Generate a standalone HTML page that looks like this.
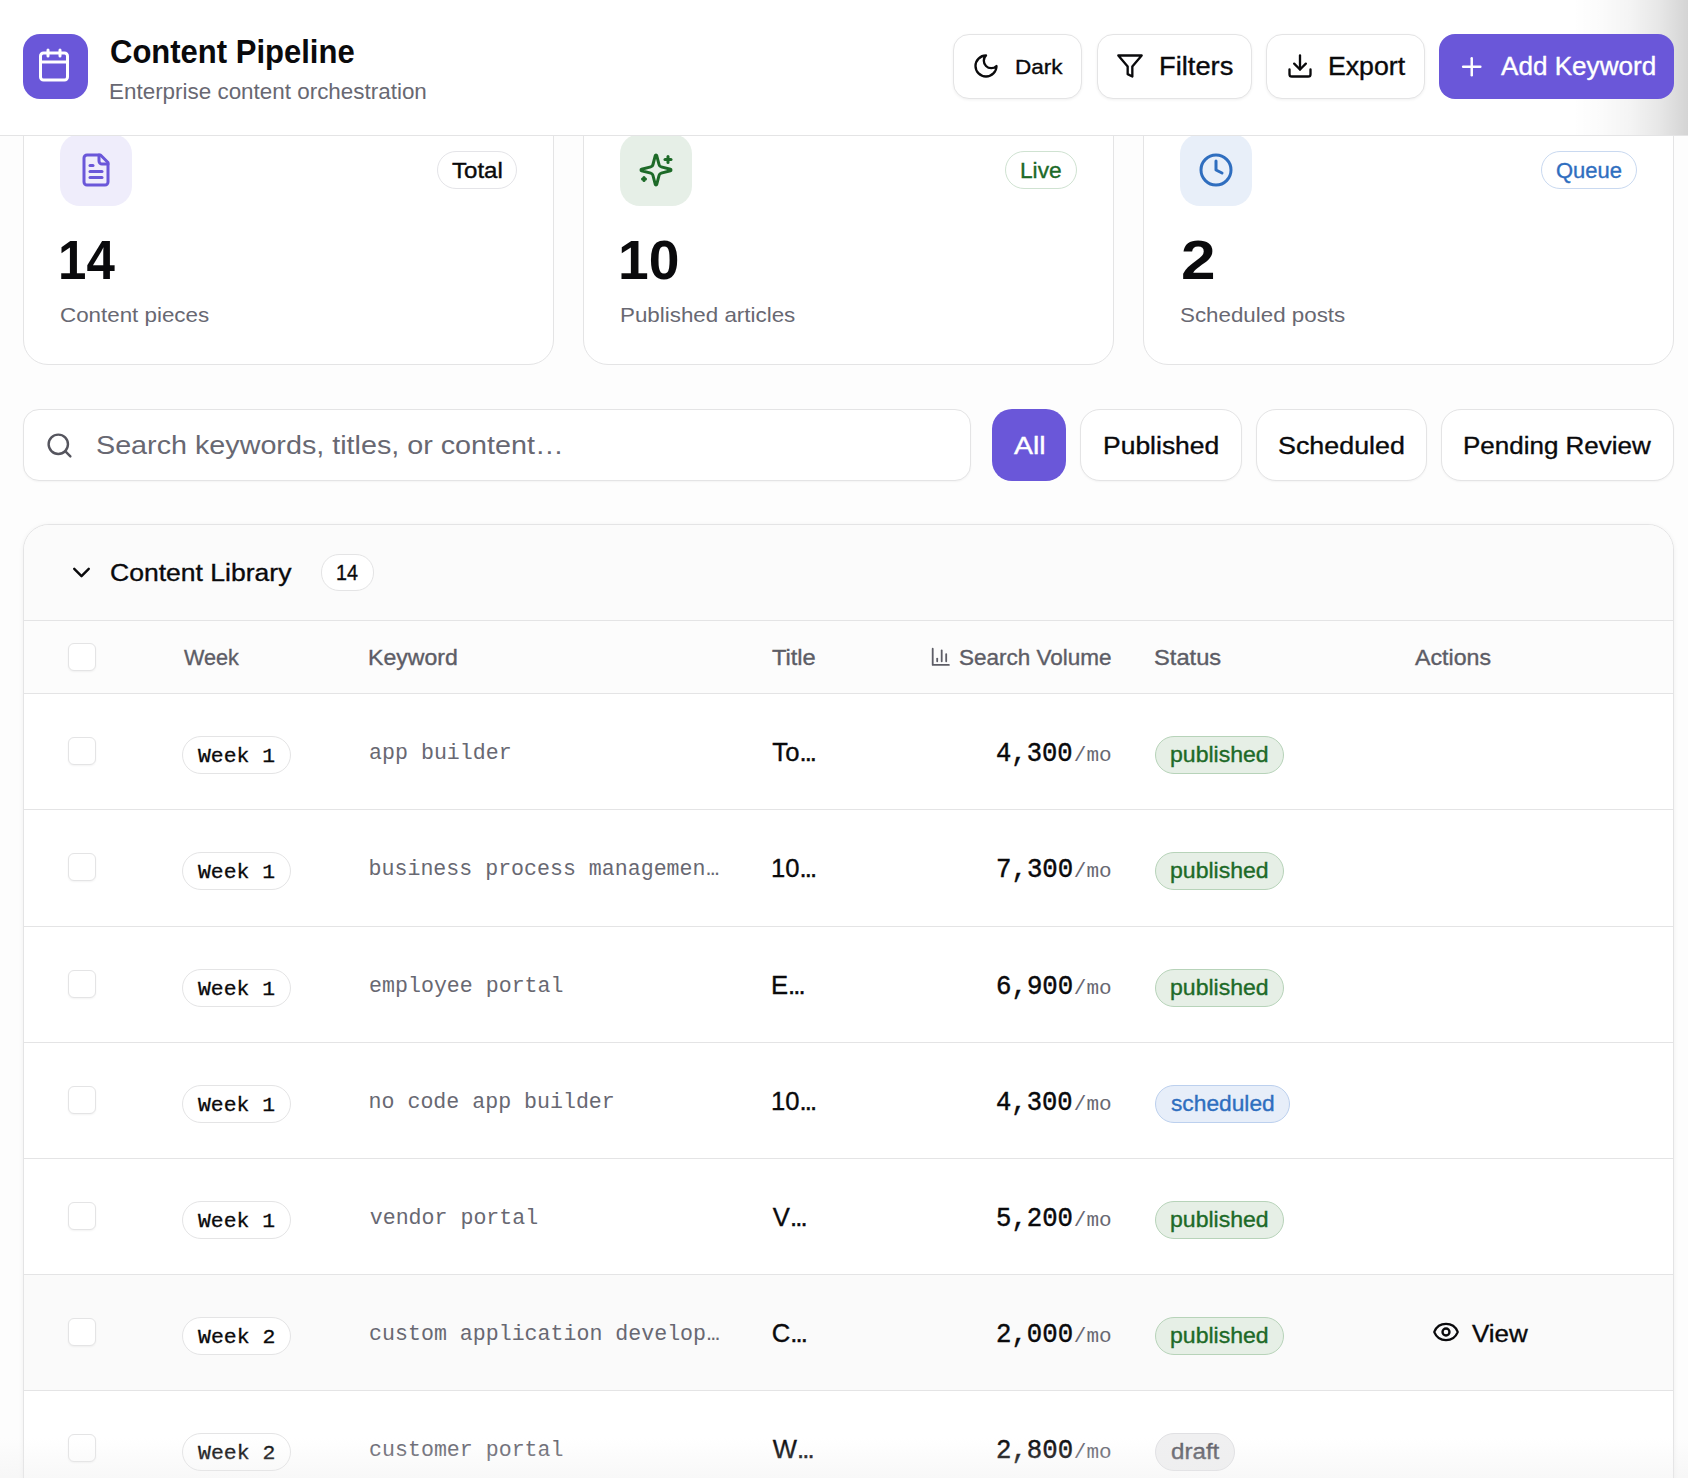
<!DOCTYPE html>
<html><head><meta charset="utf-8"><title>Content Pipeline</title>
<style>
html,body{margin:0;padding:0;}
body{width:1688px;height:1478px;overflow:hidden;background:#fdfdfd;position:relative;font-family:'Liberation Sans', sans-serif;}
</style></head><body>
<div style="position:absolute;left:23px;top:97px;width:531px;height:268px;box-sizing:border-box;background:#fff;border:1px solid #e4e4e5;border-radius:25px;"></div><div style="position:absolute;left:60px;top:134px;width:72px;height:72px;box-sizing:border-box;background:#efedfb;border-radius:20px;"></div><svg style="position:absolute;left:78px;top:152px;" width="36" height="36" viewBox="0 0 24 24" fill="none" stroke="#6a57d9" stroke-width="2" stroke-linecap="round" stroke-linejoin="round"><path d="M15 2H6a2 2 0 0 0-2 2v16a2 2 0 0 0 2 2h12a2 2 0 0 0 2-2V7Z"/><path d="M14 2v4a2 2 0 0 0 2 2h4"/><path d="M10 9H8"/><path d="M16 13H8"/><path d="M16 17H8"/></svg><div style="position:absolute;left:437px;top:151px;width:80px;height:38px;box-sizing:border-box;background:#fff;border:1px solid #e4e4e8;border-radius:19px;"></div><div style="position:absolute;left:583px;top:97px;width:531px;height:268px;box-sizing:border-box;background:#fff;border:1px solid #e4e4e5;border-radius:25px;"></div><div style="position:absolute;left:620px;top:134px;width:72px;height:72px;box-sizing:border-box;background:#e6efe7;border-radius:20px;"></div><svg style="position:absolute;left:638px;top:152px;" width="36" height="36" viewBox="0 0 24 24" fill="none" stroke="#1d6a28" stroke-width="2" stroke-linecap="round" stroke-linejoin="round"><path d="M9.937 15.5A2 2 0 0 0 8.5 14.063l-6.135-1.582a.5.5 0 0 1 0-.962L8.5 9.936A2 2 0 0 0 9.937 8.5l1.582-6.135a.5.5 0 0 1 .963 0L14.063 8.5A2 2 0 0 0 15.5 9.937l6.135 1.581a.5.5 0 0 1 0 .964L15.5 14.063a2 2 0 0 0-1.437 1.437l-1.582 6.135a.5.5 0 0 1-.963 0z"/><path d="M20 3v4"/><path d="M22 5h-4"/><path d="M4 17v2"/><path d="M5 18H3"/></svg><div style="position:absolute;left:1005px;top:151px;width:72px;height:38px;box-sizing:border-box;background:#fff;border:1px solid #cfe2d1;border-radius:19px;"></div><div style="position:absolute;left:1143px;top:97px;width:531px;height:268px;box-sizing:border-box;background:#fff;border:1px solid #e4e4e5;border-radius:25px;"></div><div style="position:absolute;left:1180px;top:134px;width:72px;height:72px;box-sizing:border-box;background:#e8eff9;border-radius:20px;"></div><svg style="position:absolute;left:1198px;top:152px;" width="36" height="36" viewBox="0 0 24 24" fill="none" stroke="#2f6ebf" stroke-width="2" stroke-linecap="round" stroke-linejoin="round"><circle cx="12" cy="12" r="10"/><polyline points="12 6 12 12 16 14"/></svg><div style="position:absolute;left:1541px;top:151px;width:96px;height:38px;box-sizing:border-box;background:#fff;border:1px solid #c9d9f0;border-radius:19px;"></div><div style="position:absolute;left:23px;top:409px;width:948px;height:72px;box-sizing:border-box;background:#fff;border:1px solid #e4e4e5;border-radius:16px;box-shadow:0 1px 2px rgba(0,0,0,0.04);"></div><svg style="position:absolute;left:45px;top:431px;" width="29" height="29" viewBox="0 0 24 24" fill="none" stroke="#55555e" stroke-width="2" stroke-linecap="round" stroke-linejoin="round"><circle cx="11" cy="11" r="8"/><path d="m21 21-4.3-4.3"/></svg><div style="position:absolute;left:992px;top:409px;width:74px;height:72px;box-sizing:border-box;background:#6a57d9;border-radius:20px;"></div><div style="position:absolute;left:1080px;top:409px;width:162px;height:72px;box-sizing:border-box;background:#fff;border:1px solid #e4e4e5;border-radius:20px;box-shadow:0 1px 2px rgba(0,0,0,0.04);"></div><div style="position:absolute;left:1256px;top:409px;width:171px;height:72px;box-sizing:border-box;background:#fff;border:1px solid #e4e4e5;border-radius:20px;box-shadow:0 1px 2px rgba(0,0,0,0.04);"></div><div style="position:absolute;left:1441px;top:409px;width:233px;height:72px;box-sizing:border-box;background:#fff;border:1px solid #e4e4e5;border-radius:20px;box-shadow:0 1px 2px rgba(0,0,0,0.04);"></div><div style="position:absolute;left:23px;top:524px;width:1651px;height:1200px;box-sizing:border-box;border:1px solid #e4e4e5;border-radius:26px;background:#fff;overflow:hidden;box-shadow:0 1px 5px rgba(0,0,0,0.06)"><div style="position:absolute;left:0;top:0;right:0;height:95px;background:#fbfbfb;border-bottom:1px solid #e4e4e5"></div><div style="position:absolute;left:0;top:96px;right:0;height:72px;background:#fcfcfc;border-bottom:1px solid #e4e4e5"></div></div><svg style="position:absolute;left:66.8px;top:558.1px;" width="29" height="29" viewBox="0 0 24 24" fill="none" stroke="#0a0a0c" stroke-width="2" stroke-linecap="round" stroke-linejoin="round"><path d="m6 9 6 6 6-6"/></svg><div style="position:absolute;left:321px;top:554px;width:53px;height:37px;box-sizing:border-box;background:#fff;border:1px solid #e4e4e5;border-radius:18px;"></div><div style="position:absolute;left:68px;top:643px;width:28px;height:28px;box-sizing:border-box;background:#fff;border:1px solid #e4e4e5;border-radius:6px;box-shadow:0 1px 2px rgba(0,0,0,0.05);"></div><svg style="position:absolute;left:930px;top:645.8px;" width="21.6" height="21.6" viewBox="0 0 24 24" fill="none" stroke="#5d5d66" stroke-width="2" stroke-linecap="round" stroke-linejoin="round"><path d="M3 3v18h18"/><path d="M18 17V9"/><path d="M13 17V5"/><path d="M8 17v-3"/></svg><div style="position:absolute;left:24px;top:809px;width:1649px;height:1px;box-sizing:border-box;background:#e4e4e5;"></div><div style="position:absolute;left:68px;top:737px;width:28px;height:28px;box-sizing:border-box;background:#fff;border:1px solid #e4e4e5;border-radius:6px;box-shadow:0 1px 2px rgba(0,0,0,0.05);"></div><div style="position:absolute;left:182px;top:736px;width:109px;height:38px;box-sizing:border-box;background:#fff;border:1px solid #e4e4e5;border-radius:19px;"></div><div style="position:absolute;left:1155px;top:736px;width:129px;height:38px;box-sizing:border-box;background:#e6efe6;border:1px solid #b7d3b9;border-radius:19px;"></div><div style="position:absolute;left:24px;top:926px;width:1649px;height:1px;box-sizing:border-box;background:#e4e4e5;"></div><div style="position:absolute;left:68px;top:853px;width:28px;height:28px;box-sizing:border-box;background:#fff;border:1px solid #e4e4e5;border-radius:6px;box-shadow:0 1px 2px rgba(0,0,0,0.05);"></div><div style="position:absolute;left:182px;top:852px;width:109px;height:38px;box-sizing:border-box;background:#fff;border:1px solid #e4e4e5;border-radius:19px;"></div><div style="position:absolute;left:1155px;top:852px;width:129px;height:38px;box-sizing:border-box;background:#e6efe6;border:1px solid #b7d3b9;border-radius:19px;"></div><div style="position:absolute;left:24px;top:1042px;width:1649px;height:1px;box-sizing:border-box;background:#e4e4e5;"></div><div style="position:absolute;left:68px;top:970px;width:28px;height:28px;box-sizing:border-box;background:#fff;border:1px solid #e4e4e5;border-radius:6px;box-shadow:0 1px 2px rgba(0,0,0,0.05);"></div><div style="position:absolute;left:182px;top:969px;width:109px;height:38px;box-sizing:border-box;background:#fff;border:1px solid #e4e4e5;border-radius:19px;"></div><div style="position:absolute;left:1155px;top:969px;width:129px;height:38px;box-sizing:border-box;background:#e6efe6;border:1px solid #b7d3b9;border-radius:19px;"></div><div style="position:absolute;left:24px;top:1158px;width:1649px;height:1px;box-sizing:border-box;background:#e4e4e5;"></div><div style="position:absolute;left:68px;top:1086px;width:28px;height:28px;box-sizing:border-box;background:#fff;border:1px solid #e4e4e5;border-radius:6px;box-shadow:0 1px 2px rgba(0,0,0,0.05);"></div><div style="position:absolute;left:182px;top:1085px;width:109px;height:38px;box-sizing:border-box;background:#fff;border:1px solid #e4e4e5;border-radius:19px;"></div><div style="position:absolute;left:1155px;top:1085px;width:135px;height:38px;box-sizing:border-box;background:#e7eef9;border:1px solid #bcd0ee;border-radius:19px;"></div><div style="position:absolute;left:24px;top:1274px;width:1649px;height:1px;box-sizing:border-box;background:#e4e4e5;"></div><div style="position:absolute;left:68px;top:1202px;width:28px;height:28px;box-sizing:border-box;background:#fff;border:1px solid #e4e4e5;border-radius:6px;box-shadow:0 1px 2px rgba(0,0,0,0.05);"></div><div style="position:absolute;left:182px;top:1201px;width:109px;height:38px;box-sizing:border-box;background:#fff;border:1px solid #e4e4e5;border-radius:19px;"></div><div style="position:absolute;left:1155px;top:1201px;width:129px;height:38px;box-sizing:border-box;background:#e6efe6;border:1px solid #b7d3b9;border-radius:19px;"></div><div style="position:absolute;left:24px;top:1275px;width:1649px;height:115px;box-sizing:border-box;background:#fafafa;"></div><div style="position:absolute;left:24px;top:1390px;width:1649px;height:1px;box-sizing:border-box;background:#e4e4e5;"></div><div style="position:absolute;left:68px;top:1318px;width:28px;height:28px;box-sizing:border-box;background:#fff;border:1px solid #e4e4e5;border-radius:6px;box-shadow:0 1px 2px rgba(0,0,0,0.05);"></div><div style="position:absolute;left:182px;top:1317px;width:109px;height:38px;box-sizing:border-box;background:#fff;border:1px solid #e4e4e5;border-radius:19px;"></div><div style="position:absolute;left:1155px;top:1317px;width:129px;height:38px;box-sizing:border-box;background:#e6efe6;border:1px solid #b7d3b9;border-radius:19px;"></div><svg style="position:absolute;left:1432px;top:1318.2px;" width="28" height="28" viewBox="0 0 24 24" fill="none" stroke="#0a0a0c" stroke-width="2" stroke-linecap="round" stroke-linejoin="round"><path d="M2.062 12.348a1 1 0 0 1 0-.696 10.75 10.75 0 0 1 19.876 0 1 1 0 0 1 0 .696 10.75 10.75 0 0 1-19.876 0"/><circle cx="12" cy="12" r="3"/></svg><div style="position:absolute;left:24px;top:1506px;width:1649px;height:1px;box-sizing:border-box;background:#e4e4e5;"></div><div style="position:absolute;left:68px;top:1434px;width:28px;height:28px;box-sizing:border-box;background:#fff;border:1px solid #e4e4e5;border-radius:6px;box-shadow:0 1px 2px rgba(0,0,0,0.05);"></div><div style="position:absolute;left:182px;top:1433px;width:109px;height:38px;box-sizing:border-box;background:#fff;border:1px solid #e4e4e5;border-radius:19px;"></div><div style="position:absolute;left:1155px;top:1433px;width:80px;height:38px;box-sizing:border-box;background:#f0f0f1;border:1px solid #e0e0e3;border-radius:19px;"></div>
<div style="position:absolute;left:452.20px;top:158.80px;font-family:'Liberation Sans', sans-serif;font-weight:400;font-size:21.22px;line-height:normal;color:#0a0a0c;white-space:pre;transform:scaleX(1.1341);transform-origin:0 0;-webkit-text-stroke:0.35px currentColor;">Total</div><div style="position:absolute;left:58.28px;top:226.90px;font-family:'Liberation Sans', sans-serif;font-weight:700;font-size:55.98px;line-height:normal;color:#0a0a0c;white-space:pre;transform:scaleX(0.9121);transform-origin:0 0;">14</div><div style="position:absolute;left:59.78px;top:302.70px;font-family:'Liberation Sans', sans-serif;font-weight:400;font-size:20.97px;line-height:normal;color:#686872;white-space:pre;transform:scaleX(1.0662);transform-origin:0 0;">Content pieces</div><div style="position:absolute;left:1020.48px;top:158.80px;font-family:'Liberation Sans', sans-serif;font-weight:400;font-size:21.22px;line-height:normal;color:#1d6a28;white-space:pre;transform:scaleX(1.0695);transform-origin:0 0;-webkit-text-stroke:0.35px currentColor;">Live</div><div style="position:absolute;left:618.01px;top:227.20px;font-family:'Liberation Sans', sans-serif;font-weight:700;font-size:55.98px;line-height:normal;color:#0a0a0c;white-space:pre;transform:scaleX(0.9865);transform-origin:0 0;">10</div><div style="position:absolute;left:619.81px;top:302.70px;font-family:'Liberation Sans', sans-serif;font-weight:400;font-size:20.97px;line-height:normal;color:#686872;white-space:pre;transform:scaleX(1.0664);transform-origin:0 0;">Published articles</div><div style="position:absolute;left:1556.01px;top:158.80px;font-family:'Liberation Sans', sans-serif;font-weight:400;font-size:21.22px;line-height:normal;color:#2f6ebf;white-space:pre;transform:scaleX(1.0349);transform-origin:0 0;-webkit-text-stroke:0.35px currentColor;">Queue</div><div style="position:absolute;left:1180.53px;top:227.20px;font-family:'Liberation Sans', sans-serif;font-weight:700;font-size:55.98px;line-height:normal;color:#0a0a0c;white-space:pre;transform:scaleX(1.1090);transform-origin:0 0;">2</div><div style="position:absolute;left:1179.99px;top:302.70px;font-family:'Liberation Sans', sans-serif;font-weight:400;font-size:20.97px;line-height:normal;color:#686872;white-space:pre;transform:scaleX(1.0655);transform-origin:0 0;">Scheduled posts</div><div style="position:absolute;left:96.11px;top:430.90px;font-family:'Liberation Sans', sans-serif;font-weight:400;font-size:24.97px;line-height:normal;color:#686872;white-space:pre;transform:scaleX(1.1501);transform-origin:0 0;">Search keywords, titles, or content…</div><div style="position:absolute;left:1014.16px;top:432.00px;font-family:'Liberation Sans', sans-serif;font-weight:400;font-size:24.66px;line-height:normal;color:#fff;white-space:pre;transform:scaleX(1.1544);transform-origin:0 0;-webkit-text-stroke:0.35px currentColor;">All</div><div style="position:absolute;left:1102.78px;top:431.90px;font-family:'Liberation Sans', sans-serif;font-weight:400;font-size:24.66px;line-height:normal;color:#0a0a0c;white-space:pre;transform:scaleX(1.0739);transform-origin:0 0;-webkit-text-stroke:0.35px currentColor;">Published</div><div style="position:absolute;left:1278.09px;top:431.90px;font-family:'Liberation Sans', sans-serif;font-weight:400;font-size:24.66px;line-height:normal;color:#0a0a0c;white-space:pre;transform:scaleX(1.0889);transform-origin:0 0;-webkit-text-stroke:0.35px currentColor;">Scheduled</div><div style="position:absolute;left:1462.92px;top:431.90px;font-family:'Liberation Sans', sans-serif;font-weight:400;font-size:24.66px;line-height:normal;color:#0a0a0c;white-space:pre;transform:scaleX(1.0540);transform-origin:0 0;-webkit-text-stroke:0.35px currentColor;">Pending Review</div><div style="position:absolute;left:109.87px;top:558.70px;font-family:'Liberation Sans', sans-serif;font-weight:400;font-size:24.55px;line-height:normal;color:#0a0a0c;white-space:pre;transform:scaleX(1.0811);transform-origin:0 0;-webkit-text-stroke:0.35px currentColor;">Content Library</div><div style="position:absolute;left:335.72px;top:561.30px;font-family:'Liberation Sans', sans-serif;font-weight:400;font-size:21.16px;line-height:normal;color:#0a0a0c;white-space:pre;transform:scaleX(0.9312);transform-origin:0 0;-webkit-text-stroke:0.35px currentColor;">14</div><div style="position:absolute;left:183.59px;top:645.90px;font-family:'Liberation Sans', sans-serif;font-weight:400;font-size:21.23px;line-height:normal;color:#5d5d66;white-space:pre;transform:scaleX(1.0184);transform-origin:0 0;-webkit-text-stroke:0.35px currentColor;">Week</div><div style="position:absolute;left:368.35px;top:645.90px;font-family:'Liberation Sans', sans-serif;font-weight:400;font-size:21.23px;line-height:normal;color:#5d5d66;white-space:pre;transform:scaleX(1.0868);transform-origin:0 0;-webkit-text-stroke:0.35px currentColor;">Keyword</div><div style="position:absolute;left:772.21px;top:645.90px;font-family:'Liberation Sans', sans-serif;font-weight:400;font-size:21.23px;line-height:normal;color:#5d5d66;white-space:pre;transform:scaleX(1.1136);transform-origin:0 0;-webkit-text-stroke:0.35px currentColor;">Title</div><div style="position:absolute;left:959.09px;top:645.90px;font-family:'Liberation Sans', sans-serif;font-weight:400;font-size:21.23px;line-height:normal;color:#5d5d66;white-space:pre;transform:scaleX(1.0604);transform-origin:0 0;-webkit-text-stroke:0.35px currentColor;">Search Volume</div><div style="position:absolute;left:1154.33px;top:645.90px;font-family:'Liberation Sans', sans-serif;font-weight:400;font-size:21.23px;line-height:normal;color:#5d5d66;white-space:pre;transform:scaleX(1.1165);transform-origin:0 0;-webkit-text-stroke:0.35px currentColor;">Status</div><div style="position:absolute;left:1414.68px;top:645.90px;font-family:'Liberation Sans', sans-serif;font-weight:400;font-size:21.23px;line-height:normal;color:#5d5d66;white-space:pre;transform:scaleX(1.0921);transform-origin:0 0;-webkit-text-stroke:0.35px currentColor;">Actions</div><div style="position:absolute;left:198.20px;top:745.00px;font-family:'Liberation Mono', monospace;font-weight:400;font-size:20.83px;line-height:normal;color:#0a0a0c;white-space:pre;transform:scaleX(1.0265);transform-origin:0 0;-webkit-text-stroke:0.3px currentColor;">Week 1</div><div style="position:absolute;left:369.10px;top:741.40px;font-family:'Liberation Mono', monospace;font-weight:400;font-size:21.60px;line-height:normal;color:#686872;white-space:pre;">app builder</div><div style="position:absolute;left:772.36px;top:737.80px;font-family:'Liberation Sans', sans-serif;font-weight:400;font-size:25.64px;line-height:normal;color:#0a0a0c;white-space:pre;-webkit-text-stroke:0.35px currentColor;">To<span style="letter-spacing:-1.9px">...</span></div><div style="position:absolute;left:996.42px;top:738.80px;font-family:'Liberation Mono', monospace;font-weight:400;font-size:27.01px;line-height:normal;color:#0a0a0c;white-space:pre;transform:scaleX(0.9453);transform-origin:0 0;-webkit-text-stroke:0.45px currentColor;">4,300</div><div style="position:absolute;left:1073.84px;top:743.80px;font-family:'Liberation Mono', monospace;font-weight:400;font-size:21.01px;line-height:normal;color:#686872;white-space:pre;">/mo</div><div style="position:absolute;left:1170.30px;top:742.80px;font-family:'Liberation Sans', sans-serif;font-weight:400;font-size:21.24px;line-height:normal;color:#1d6a28;white-space:pre;transform:scaleX(1.0856);transform-origin:0 0;-webkit-text-stroke:0.35px currentColor;">published</div><div style="position:absolute;left:198.20px;top:861.00px;font-family:'Liberation Mono', monospace;font-weight:400;font-size:20.83px;line-height:normal;color:#0a0a0c;white-space:pre;transform:scaleX(1.0265);transform-origin:0 0;-webkit-text-stroke:0.3px currentColor;">Week 1</div><div style="position:absolute;left:368.56px;top:855.40px;font-family:'Liberation Mono', monospace;font-weight:400;font-size:21.60px;line-height:normal;color:#686872;white-space:pre;">business process managemen<span style="font-family:'Liberation Sans';letter-spacing:-1.7px">...</span></div><div style="position:absolute;left:771.08px;top:853.80px;font-family:'Liberation Sans', sans-serif;font-weight:400;font-size:25.64px;line-height:normal;color:#0a0a0c;white-space:pre;-webkit-text-stroke:0.35px currentColor;">10<span style="letter-spacing:-1.9px">...</span></div><div style="position:absolute;left:995.77px;top:854.80px;font-family:'Liberation Mono', monospace;font-weight:400;font-size:27.01px;line-height:normal;color:#0a0a0c;white-space:pre;transform:scaleX(0.9535);transform-origin:0 0;-webkit-text-stroke:0.45px currentColor;">7,300</div><div style="position:absolute;left:1073.84px;top:859.80px;font-family:'Liberation Mono', monospace;font-weight:400;font-size:21.01px;line-height:normal;color:#686872;white-space:pre;">/mo</div><div style="position:absolute;left:1170.30px;top:858.80px;font-family:'Liberation Sans', sans-serif;font-weight:400;font-size:21.24px;line-height:normal;color:#1d6a28;white-space:pre;transform:scaleX(1.0856);transform-origin:0 0;-webkit-text-stroke:0.35px currentColor;">published</div><div style="position:absolute;left:198.20px;top:978.00px;font-family:'Liberation Mono', monospace;font-weight:400;font-size:20.83px;line-height:normal;color:#0a0a0c;white-space:pre;transform:scaleX(1.0265);transform-origin:0 0;-webkit-text-stroke:0.3px currentColor;">Week 1</div><div style="position:absolute;left:369.10px;top:974.40px;font-family:'Liberation Mono', monospace;font-weight:400;font-size:21.60px;line-height:normal;color:#686872;white-space:pre;">employee portal</div><div style="position:absolute;left:770.95px;top:970.80px;font-family:'Liberation Sans', sans-serif;font-weight:400;font-size:25.64px;line-height:normal;color:#0a0a0c;white-space:pre;-webkit-text-stroke:0.35px currentColor;">E<span style="letter-spacing:-1.9px">...</span></div><div style="position:absolute;left:995.77px;top:971.80px;font-family:'Liberation Mono', monospace;font-weight:400;font-size:27.01px;line-height:normal;color:#0a0a0c;white-space:pre;transform:scaleX(0.9535);transform-origin:0 0;-webkit-text-stroke:0.45px currentColor;">6,900</div><div style="position:absolute;left:1073.84px;top:976.80px;font-family:'Liberation Mono', monospace;font-weight:400;font-size:21.01px;line-height:normal;color:#686872;white-space:pre;">/mo</div><div style="position:absolute;left:1170.30px;top:975.80px;font-family:'Liberation Sans', sans-serif;font-weight:400;font-size:21.24px;line-height:normal;color:#1d6a28;white-space:pre;transform:scaleX(1.0856);transform-origin:0 0;-webkit-text-stroke:0.35px currentColor;">published</div><div style="position:absolute;left:198.20px;top:1094.00px;font-family:'Liberation Mono', monospace;font-weight:400;font-size:20.83px;line-height:normal;color:#0a0a0c;white-space:pre;transform:scaleX(1.0265);transform-origin:0 0;-webkit-text-stroke:0.3px currentColor;">Week 1</div><div style="position:absolute;left:368.56px;top:1090.40px;font-family:'Liberation Mono', monospace;font-weight:400;font-size:21.60px;line-height:normal;color:#686872;white-space:pre;">no code app builder</div><div style="position:absolute;left:771.08px;top:1086.80px;font-family:'Liberation Sans', sans-serif;font-weight:400;font-size:25.64px;line-height:normal;color:#0a0a0c;white-space:pre;-webkit-text-stroke:0.35px currentColor;">10<span style="letter-spacing:-1.9px">...</span></div><div style="position:absolute;left:996.42px;top:1087.80px;font-family:'Liberation Mono', monospace;font-weight:400;font-size:27.01px;line-height:normal;color:#0a0a0c;white-space:pre;transform:scaleX(0.9453);transform-origin:0 0;-webkit-text-stroke:0.45px currentColor;">4,300</div><div style="position:absolute;left:1073.84px;top:1092.80px;font-family:'Liberation Mono', monospace;font-weight:400;font-size:21.01px;line-height:normal;color:#686872;white-space:pre;">/mo</div><div style="position:absolute;left:1171.12px;top:1091.80px;font-family:'Liberation Sans', sans-serif;font-weight:400;font-size:21.24px;line-height:normal;color:#2f6ebf;white-space:pre;transform:scaleX(1.0712);transform-origin:0 0;-webkit-text-stroke:0.35px currentColor;">scheduled</div><div style="position:absolute;left:198.20px;top:1210.00px;font-family:'Liberation Mono', monospace;font-weight:400;font-size:20.83px;line-height:normal;color:#0a0a0c;white-space:pre;transform:scaleX(1.0265);transform-origin:0 0;-webkit-text-stroke:0.3px currentColor;">Week 1</div><div style="position:absolute;left:369.74px;top:1206.40px;font-family:'Liberation Mono', monospace;font-weight:400;font-size:21.60px;line-height:normal;color:#686872;white-space:pre;">vendor portal</div><div style="position:absolute;left:772.87px;top:1202.80px;font-family:'Liberation Sans', sans-serif;font-weight:400;font-size:25.64px;line-height:normal;color:#0a0a0c;white-space:pre;-webkit-text-stroke:0.35px currentColor;">V<span style="letter-spacing:-1.9px">...</span></div><div style="position:absolute;left:996.03px;top:1203.80px;font-family:'Liberation Mono', monospace;font-weight:400;font-size:27.01px;line-height:normal;color:#0a0a0c;white-space:pre;transform:scaleX(0.9502);transform-origin:0 0;-webkit-text-stroke:0.45px currentColor;">5,200</div><div style="position:absolute;left:1073.84px;top:1208.80px;font-family:'Liberation Mono', monospace;font-weight:400;font-size:21.01px;line-height:normal;color:#686872;white-space:pre;">/mo</div><div style="position:absolute;left:1170.30px;top:1207.80px;font-family:'Liberation Sans', sans-serif;font-weight:400;font-size:21.24px;line-height:normal;color:#1d6a28;white-space:pre;transform:scaleX(1.0856);transform-origin:0 0;-webkit-text-stroke:0.35px currentColor;">published</div><div style="position:absolute;left:198.20px;top:1326.00px;font-family:'Liberation Mono', monospace;font-weight:400;font-size:20.83px;line-height:normal;color:#0a0a0c;white-space:pre;transform:scaleX(1.0324);transform-origin:0 0;-webkit-text-stroke:0.3px currentColor;">Week 2</div><div style="position:absolute;left:369.10px;top:1320.40px;font-family:'Liberation Mono', monospace;font-weight:400;font-size:21.60px;line-height:normal;color:#686872;white-space:pre;">custom application develop<span style="font-family:'Liberation Sans';letter-spacing:-1.7px">...</span></div><div style="position:absolute;left:771.72px;top:1318.80px;font-family:'Liberation Sans', sans-serif;font-weight:400;font-size:25.64px;line-height:normal;color:#0a0a0c;white-space:pre;-webkit-text-stroke:0.35px currentColor;">C<span style="letter-spacing:-1.9px">...</span></div><div style="position:absolute;left:995.90px;top:1319.80px;font-family:'Liberation Mono', monospace;font-weight:400;font-size:27.01px;line-height:normal;color:#0a0a0c;white-space:pre;transform:scaleX(0.9519);transform-origin:0 0;-webkit-text-stroke:0.45px currentColor;">2,000</div><div style="position:absolute;left:1073.84px;top:1324.80px;font-family:'Liberation Mono', monospace;font-weight:400;font-size:21.01px;line-height:normal;color:#686872;white-space:pre;">/mo</div><div style="position:absolute;left:1170.30px;top:1323.80px;font-family:'Liberation Sans', sans-serif;font-weight:400;font-size:21.24px;line-height:normal;color:#1d6a28;white-space:pre;transform:scaleX(1.0856);transform-origin:0 0;-webkit-text-stroke:0.35px currentColor;">published</div><div style="position:absolute;left:1472.37px;top:1320.00px;font-family:'Liberation Sans', sans-serif;font-weight:400;font-size:24.41px;line-height:normal;color:#0a0a0c;white-space:pre;transform:scaleX(1.0636);transform-origin:0 0;-webkit-text-stroke:0.35px currentColor;">View</div><div style="position:absolute;left:198.20px;top:1442.00px;font-family:'Liberation Mono', monospace;font-weight:400;font-size:20.83px;line-height:normal;color:#0a0a0c;white-space:pre;transform:scaleX(1.0324);transform-origin:0 0;-webkit-text-stroke:0.3px currentColor;">Week 2</div><div style="position:absolute;left:369.10px;top:1438.40px;font-family:'Liberation Mono', monospace;font-weight:400;font-size:21.60px;line-height:normal;color:#686872;white-space:pre;">customer portal</div><div style="position:absolute;left:772.87px;top:1434.80px;font-family:'Liberation Sans', sans-serif;font-weight:400;font-size:25.64px;line-height:normal;color:#0a0a0c;white-space:pre;-webkit-text-stroke:0.35px currentColor;">W<span style="letter-spacing:-1.9px">...</span></div><div style="position:absolute;left:995.90px;top:1435.80px;font-family:'Liberation Mono', monospace;font-weight:400;font-size:27.01px;line-height:normal;color:#0a0a0c;white-space:pre;transform:scaleX(0.9519);transform-origin:0 0;-webkit-text-stroke:0.45px currentColor;">2,800</div><div style="position:absolute;left:1073.84px;top:1440.80px;font-family:'Liberation Mono', monospace;font-weight:400;font-size:21.01px;line-height:normal;color:#686872;white-space:pre;">/mo</div><div style="position:absolute;left:1170.83px;top:1439.80px;font-family:'Liberation Sans', sans-serif;font-weight:400;font-size:21.24px;line-height:normal;color:#5d5d66;white-space:pre;transform:scaleX(1.1366);transform-origin:0 0;-webkit-text-stroke:0.35px currentColor;">draft</div>
<div style="position:absolute;left:0;top:1438px;width:1688px;height:40px;background:linear-gradient(to bottom, rgba(240,240,240,0), rgba(235,235,235,0.35))"></div>
<div style="position:absolute;left:0;top:0;width:1688px;height:136px;box-sizing:border-box;background:#fff;border-bottom:1px solid #e4e4e5"></div><div style="position:absolute;left:1572px;top:0;width:116px;height:135px;background:linear-gradient(to right, rgba(0,0,0,0) 0%, rgba(0,0,0,0.015) 25%, rgba(0,0,0,0.045) 50%, rgba(0,0,0,0.095) 75%, rgba(0,0,0,0.145) 92%, rgba(0,0,0,0.17) 100%)"></div><div style="position:absolute;left:23px;top:34px;width:65px;height:65px;box-sizing:border-box;background:#6a57d9;border-radius:17px;"></div><svg style="position:absolute;left:36.4px;top:47.4px;" width="36" height="36" viewBox="0 0 24 24" fill="none" stroke="#fff" stroke-width="2" stroke-linecap="round" stroke-linejoin="round"><rect width="18" height="18" x="3" y="4" rx="2"/><path d="M8 2v4"/><path d="M16 2v4"/><path d="M3 10h18"/></svg><div style="position:absolute;left:953px;top:34px;width:129px;height:65px;box-sizing:border-box;background:#fff;border:1px solid #e4e4e5;border-radius:16px;box-shadow:0 1px 3px rgba(0,0,0,0.06);"></div><svg style="position:absolute;left:972px;top:52px;" width="28" height="28" viewBox="0 0 24 24" fill="none" stroke="#0a0a0c" stroke-width="2" stroke-linecap="round" stroke-linejoin="round"><path d="M12 3a6 6 0 0 0 9 9 9 9 0 1 1-9-9Z"/></svg><div style="position:absolute;left:1097px;top:34px;width:155px;height:65px;box-sizing:border-box;background:#fff;border:1px solid #e4e4e5;border-radius:16px;box-shadow:0 1px 3px rgba(0,0,0,0.06);"></div><svg style="position:absolute;left:1116px;top:52px;" width="28" height="28" viewBox="0 0 24 24" fill="none" stroke="#0a0a0c" stroke-width="2" stroke-linecap="round" stroke-linejoin="round"><polygon points="22 3 2 3 10 12.46 10 19 14 21 14 12.46 22 3"/></svg><div style="position:absolute;left:1266px;top:34px;width:159px;height:65px;box-sizing:border-box;background:#fff;border:1px solid #e4e4e5;border-radius:16px;box-shadow:0 1px 3px rgba(0,0,0,0.06);"></div><svg style="position:absolute;left:1286px;top:52px;" width="28" height="28" viewBox="0 0 24 24" fill="none" stroke="#0a0a0c" stroke-width="2" stroke-linecap="round" stroke-linejoin="round"><path d="M21 15v4a2 2 0 0 1-2 2H5a2 2 0 0 1-2-2v-4"/><polyline points="7 10 12 15 17 10"/><line x1="12" x2="12" y1="15" y2="3"/></svg><div style="position:absolute;left:1439px;top:34px;width:235px;height:65px;box-sizing:border-box;background:#6a57d9;border-radius:16px;"></div><svg style="position:absolute;left:1456.7px;top:51.9px;" width="29.5" height="29.5" viewBox="0 0 24 24" fill="none" stroke="#fff" stroke-width="2" stroke-linecap="round" stroke-linejoin="round"><path d="M5 12h14"/><path d="M12 5v14"/></svg>
<div style="position:absolute;left:109.76px;top:33.90px;font-family:'Liberation Sans', sans-serif;font-weight:700;font-size:32.55px;line-height:normal;color:#0a0a0c;white-space:pre;transform:scaleX(0.9529);transform-origin:0 0;">Content Pipeline</div><div style="position:absolute;left:109.41px;top:80.00px;font-family:'Liberation Sans', sans-serif;font-weight:400;font-size:21.24px;line-height:normal;color:#686872;white-space:pre;transform:scaleX(1.0560);transform-origin:0 0;">Enterprise content orchestration</div><div style="position:absolute;left:1014.60px;top:54.90px;font-family:'Liberation Sans', sans-serif;font-weight:400;font-size:21.10px;line-height:normal;color:#0a0a0c;white-space:pre;transform:scaleX(1.0691);transform-origin:0 0;-webkit-text-stroke:0.35px currentColor;">Dark</div><div style="position:absolute;left:1158.72px;top:51.80px;font-family:'Liberation Sans', sans-serif;font-weight:400;font-size:25.16px;line-height:normal;color:#0a0a0c;white-space:pre;transform:scaleX(1.0850);transform-origin:0 0;-webkit-text-stroke:0.35px currentColor;">Filters</div><div style="position:absolute;left:1328.37px;top:52.00px;font-family:'Liberation Sans', sans-serif;font-weight:400;font-size:25.16px;line-height:normal;color:#0a0a0c;white-space:pre;transform:scaleX(1.0601);transform-origin:0 0;-webkit-text-stroke:0.35px currentColor;">Export</div><div style="position:absolute;left:1501.07px;top:52.20px;font-family:'Liberation Sans', sans-serif;font-weight:400;font-size:25.16px;line-height:normal;color:#fff;white-space:pre;transform:scaleX(1.0373);transform-origin:0 0;-webkit-text-stroke:0.35px currentColor;">Add Keyword</div>
</body></html>
